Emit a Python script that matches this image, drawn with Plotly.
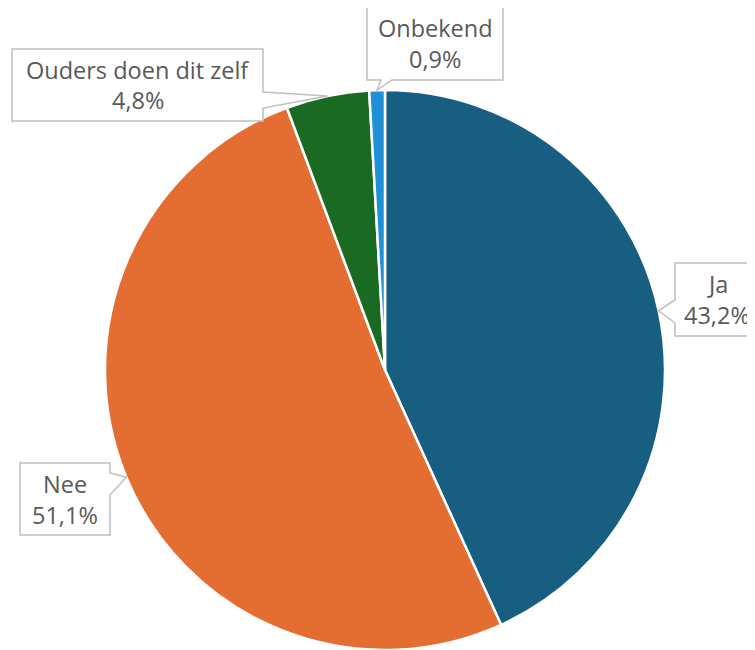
import math
import plotly.graph_objects as go

# ---- data ----
labels = ["Ja", "Nee", "Ouders doen dit zelf", "Onbekend"]
values = [43.2, 51.1, 4.8, 0.9]
colors = ["#175E80", "#E46D32", "#1B6A24", "#1F90D6"]

# ---- layout constants (pixels, page coords; page body has 8px offset) ----
W, H = 755, 650
OFF = 8
CX, CY, R = 385, 370, 280

# callout boxes: (x0, y0, x1, y1), pointer side, pointer base (a, b), text centre x
boxes = {
    "Ja": ((675, 263, 775, 336), "left", (300, 323), 717),
    "Nee": ((20, 463, 110, 535), "right", (473, 495), None),
    "Ouders doen dit zelf": ((12, 49, 263, 121), "right", (92, 108), None),
    "Onbekend": ((367, 6, 503, 80), "bottom", (381, 392), None),
}


def px(x):
    return (x - OFF) / W


def py(y):
    return 1 - (y - OFF) / H


fig = go.Figure(
    go.Pie(
        labels=labels,
        values=values,
        sort=False,
        direction="clockwise",
        rotation=0,
        marker=dict(colors=colors, line=dict(color="white", width=2.5)),
        textinfo="none",
        hoverinfo="label+percent",
        showlegend=False,
        domain=dict(x=[px(CX - R), px(CX + R)], y=[py(CY + R), py(CY - R)]),
    )
)

shapes = []
annotations = []
total = sum(values)
cum = 0.0
for lab, v in zip(labels, values):
    mid = (cum + v / 2) / total * 2 * math.pi
    cum += v
    tx = CX + R * math.sin(mid)
    ty = CY - R * math.cos(mid)
    (x0, y0, x1, y1), side, (a, b), tcx = boxes[lab]
    if side == "left":
        pts = [(x0, y0), (x1, y0), (x1, y1), (x0, y1), (x0, b), (tx, ty), (x0, a)]
    elif side == "right":
        pts = [(x0, y0), (x1, y0), (x1, a), (tx, ty), (x1, b), (x1, y1), (x0, y1)]
    else:  # bottom
        pts = [(x0, y0), (x1, y0), (x1, y1), (b, y1), (tx, ty), (a, y1), (x0, y1)]
    path = "M " + " L ".join(f"{px(x):.5f},{py(y):.5f}" for x, y in pts) + " Z"
    shapes.append(
        dict(
            type="path",
            xref="paper",
            yref="paper",
            path=path,
            fillcolor="white",
            line=dict(color="#BFBFBF", width=1.5),
            layer="above",
        )
    )
    cx = tcx if tcx is not None else (x0 + x1) / 2
    cy = (y0 + y1) / 2
    pct = f"{v:.1f}".replace(".", ",") + "%"
    for txt, dy in ((lab, -15.5), (pct, 15.5)):
        annotations.append(
            dict(
                x=px(cx),
                y=py(cy + dy),
                xref="paper",
                yref="paper",
                text=txt,
                showarrow=False,
                xanchor="center",
                yanchor="middle",
                font=dict(family="Open Sans", size=23.5, color="#595959"),
            )
        )

fig.update_layout(
    width=W,
    height=H,
    margin=dict(l=0, r=0, t=0, b=0),
    paper_bgcolor="white",
    plot_bgcolor="white",
    shapes=shapes,
    annotations=annotations,
)

fig.write_html("out.html")
